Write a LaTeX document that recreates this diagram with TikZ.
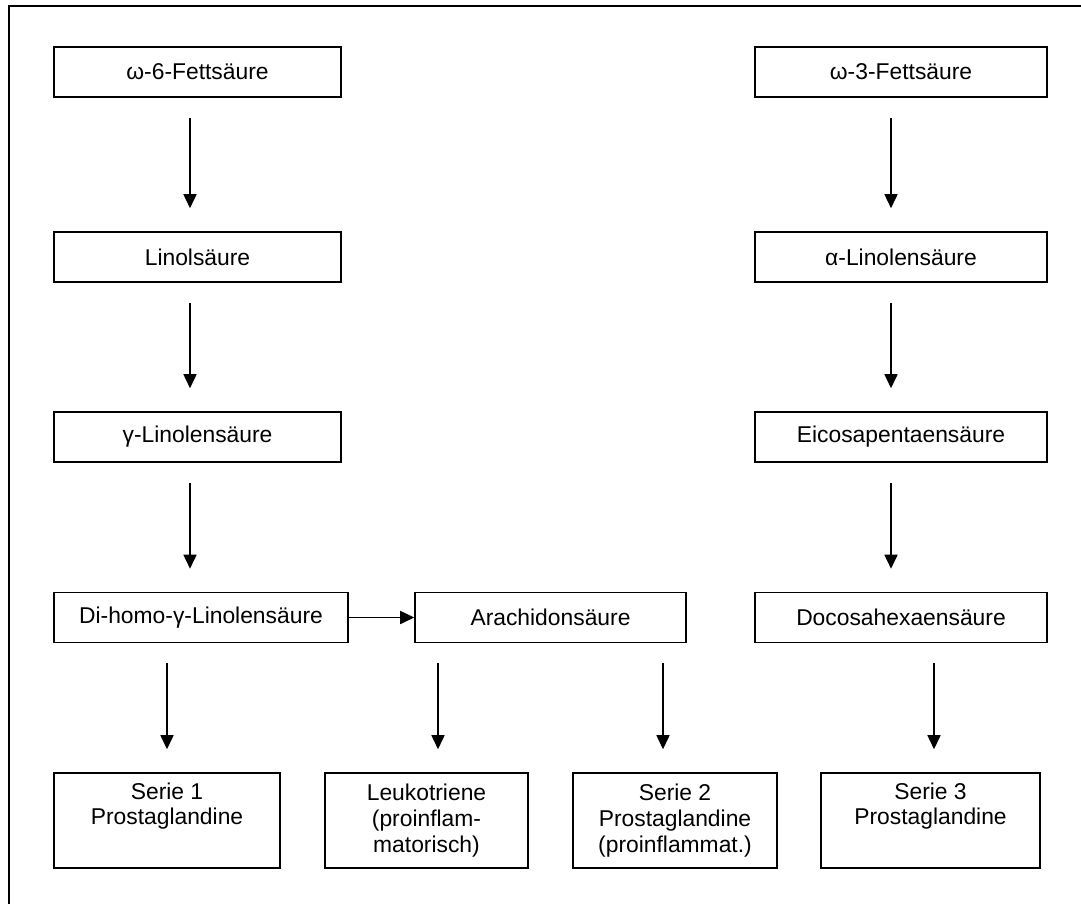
\documentclass[tikz,border=0pt]{standalone}
\usepackage{fontspec}
\setmainfont{Liberation Sans}
\usetikzlibrary{arrows.meta,calc}

\begin{document}
\begin{tikzpicture}[x=0.02cm, y=-0.02cm,
  box/.style={draw, line width=0.9pt, minimum height=1cm, inner sep=0pt,
    font=\fontsize{13}{14.6}\selectfont},
  endbox/.style={box, minimum height=1.9cm, align=center},
  arr/.style={-{Triangle[width=0.26cm, length=0.28cm]}, line width=0.9pt,
    shorten <=0.4cm, shorten >=0.46cm}]

\clip (0,0) rectangle (1081,903);
\draw[line width=0.9pt] (9,6) rectangle (1120,940);

% omega-6 Reihe
\node[box, minimum width=5.74cm] (w6) at (197.5,72) {ω-6-Fettsäure};
\node[box, minimum width=5.74cm] (lin) at (197.5,257) {Linolsäure};
\node[box, minimum width=5.74cm] (glin) at (197.5,437) {γ-Linolensäure};
\node[box, minimum width=5.88cm] (dihomo) at (201,617.5) {Di-homo-γ-Linolensäure};
\node[box, minimum width=5.42cm] (arach) at (550.5,617.5) {Arachidonsäure};

% omega-3 Reihe
\node[box, minimum width=5.84cm] (w3) at (901,72) {ω-3-Fettsäure};
\node[box, minimum width=5.84cm] (alin) at (901,257) {α-Linolensäure};
\node[box, minimum width=5.84cm] (epa) at (901,437) {Eicosapentaensäure};
\node[box, minimum width=5.84cm] (dha) at (901,617.5) {Docosahexaensäure};

% Endprodukte
\node[endbox, minimum width=4.52cm] (ser1) at (167,820.5) {Serie 1\\Prostaglandine\\\strut};
\node[endbox, minimum width=4.06cm] (leuko) at (426.5,820.5) {Leukotriene\\(proinflam-\\matorisch)};
\node[endbox, minimum width=4.08cm] (ser2) at (675,820.5) {Serie 2\\Prostaglandine\\(proinflammat.)};
\node[endbox, minimum width=4.38cm] (ser3) at (930.5,820.5) {Serie 3\\Prostaglandine\\\strut};

% Pfeile
\draw[arr] ([xshift=-0.15cm]w6.south) -- ([xshift=-0.15cm]lin.north);
\draw[arr] ([xshift=-0.15cm]lin.south) -- ([xshift=-0.15cm]glin.north);
\draw[arr] ($(glin.south)+(-7.5,0)$) -- ($(glin.south |- dihomo.north)+(-7.5,0)$);
\draw[arr] ([xshift=-0.2cm]w3.south) -- ([xshift=-0.2cm]alin.north);
\draw[arr] ([xshift=-0.2cm]alin.south) -- ([xshift=-0.2cm]epa.north);
\draw[arr] ([xshift=-0.2cm]epa.south) -- ([xshift=-0.2cm]dha.north);
\draw[-{Triangle[width=0.26cm, length=0.28cm]}, line width=0.9pt] (dihomo.east) -- (arach.west);

\draw[arr] (dihomo.south -| ser1) -- (ser1.north);
\draw[arr] ($(arach.south -| leuko)+(11.5,0)$) -- ($(leuko.north)+(11.5,0)$);
\draw[arr] ($(arach.south -| ser2)+(-12,0)$) -- ($(ser2.north)+(-12,0)$);
\draw[arr] ($(dha.south -| ser3)+(3.5,0)$) -- ($(ser3.north)+(3.5,0)$);

\end{tikzpicture}
\end{document}
